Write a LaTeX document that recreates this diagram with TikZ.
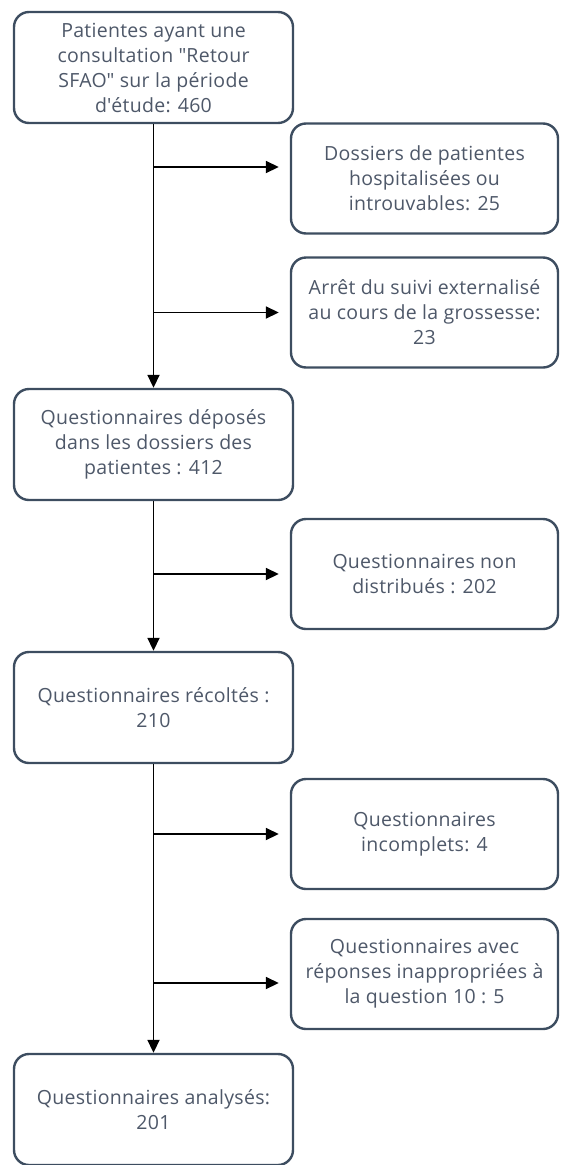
\documentclass[tikz,border=0pt]{standalone}
\usepackage{fontspec}
\setmainfont{Open Sans}[LetterSpace=1.5]
\usetikzlibrary{arrows.meta}
\definecolor{boxline}{HTML}{3D4D60}
\definecolor{boxtext}{HTML}{4E5869}
\newcommand{\dq}{\textquotedbl}
\newcommand{\sq}{\textquotesingle}
\tikzset{
  box/.style={draw=boxline, line width=2.4pt, rounded corners=15pt, fill=white,
    align=center, text=boxtext, font=\fontsize{19.5}{25}\selectfont, inner sep=2pt},
  lbox/.style={box, minimum width=279pt, minimum height=111pt},
  rbox/.style={box, minimum width=267pt, minimum height=110pt},
  arr/.style={line width=1.8pt, draw=black, -{Triangle[length=13pt,width=12pt]}}
}
\begin{document}
\begin{tikzpicture}[x=1pt,y=-1pt]
\useasboundingbox (0,0) rectangle (560,1165);
\node[lbox] (L1) at (153.5,67.5) {Patientes ayant une\\consultation \dq Retour\\SFAO\dq{} sur la période\\d\sq étude: 460};
\node[rbox] (R1) at (424.5,178.5) {Dossiers de patientes\\hospitalisées ou\\introuvables: 25};
\node[rbox] (R2) at (424.5,312.5) {Arrêt du suivi externalisé\\au cours de la grossesse:\\23};
\node[lbox] (L2) at (153.5,444.5) {Questionnaires déposés\\dans les dossiers des\\patientes : 412};
\node[rbox] (R3) at (424.5,574) {Questionnaires non\\distribués : 202};
\node[lbox] (L3) at (153.5,707.5) {Questionnaires récoltés :\\210};
\node[rbox] (R4) at (424.5,834) {Questionnaires\\incomplets: 4};
\node[rbox] (R5) at (424.5,974) {Questionnaires avec\\réponses inappropriées à\\la question 10 : 5};
\node[lbox] (L4) at (153.5,1109.5) {Questionnaires analysés:\\201};
% main vertical connectors
\draw[arr] (L1.south) -- (L2.north);
\draw[arr] (L2.south) -- (L3.north);
\draw[arr] (L3.south) -- (L4.north);
% branches
\draw[arr] ([yshift=11.5pt]L1.south |- R1.west) -- ([xshift=-11pt,yshift=11.5pt]R1.west);
\draw[arr] (L1.south |- R2.west) -- ([xshift=-11pt]R2.west);
\draw[arr] (L2.south |- R3.west) -- ([xshift=-11pt]R3.west);
\draw[arr] (L3.south |- R4.west) -- ([xshift=-11pt]R4.west);
\draw[arr] ([yshift=-9pt]L3.south |- R5.west) -- ([xshift=-11pt,yshift=-9pt]R5.west);
\end{tikzpicture}
\end{document}
